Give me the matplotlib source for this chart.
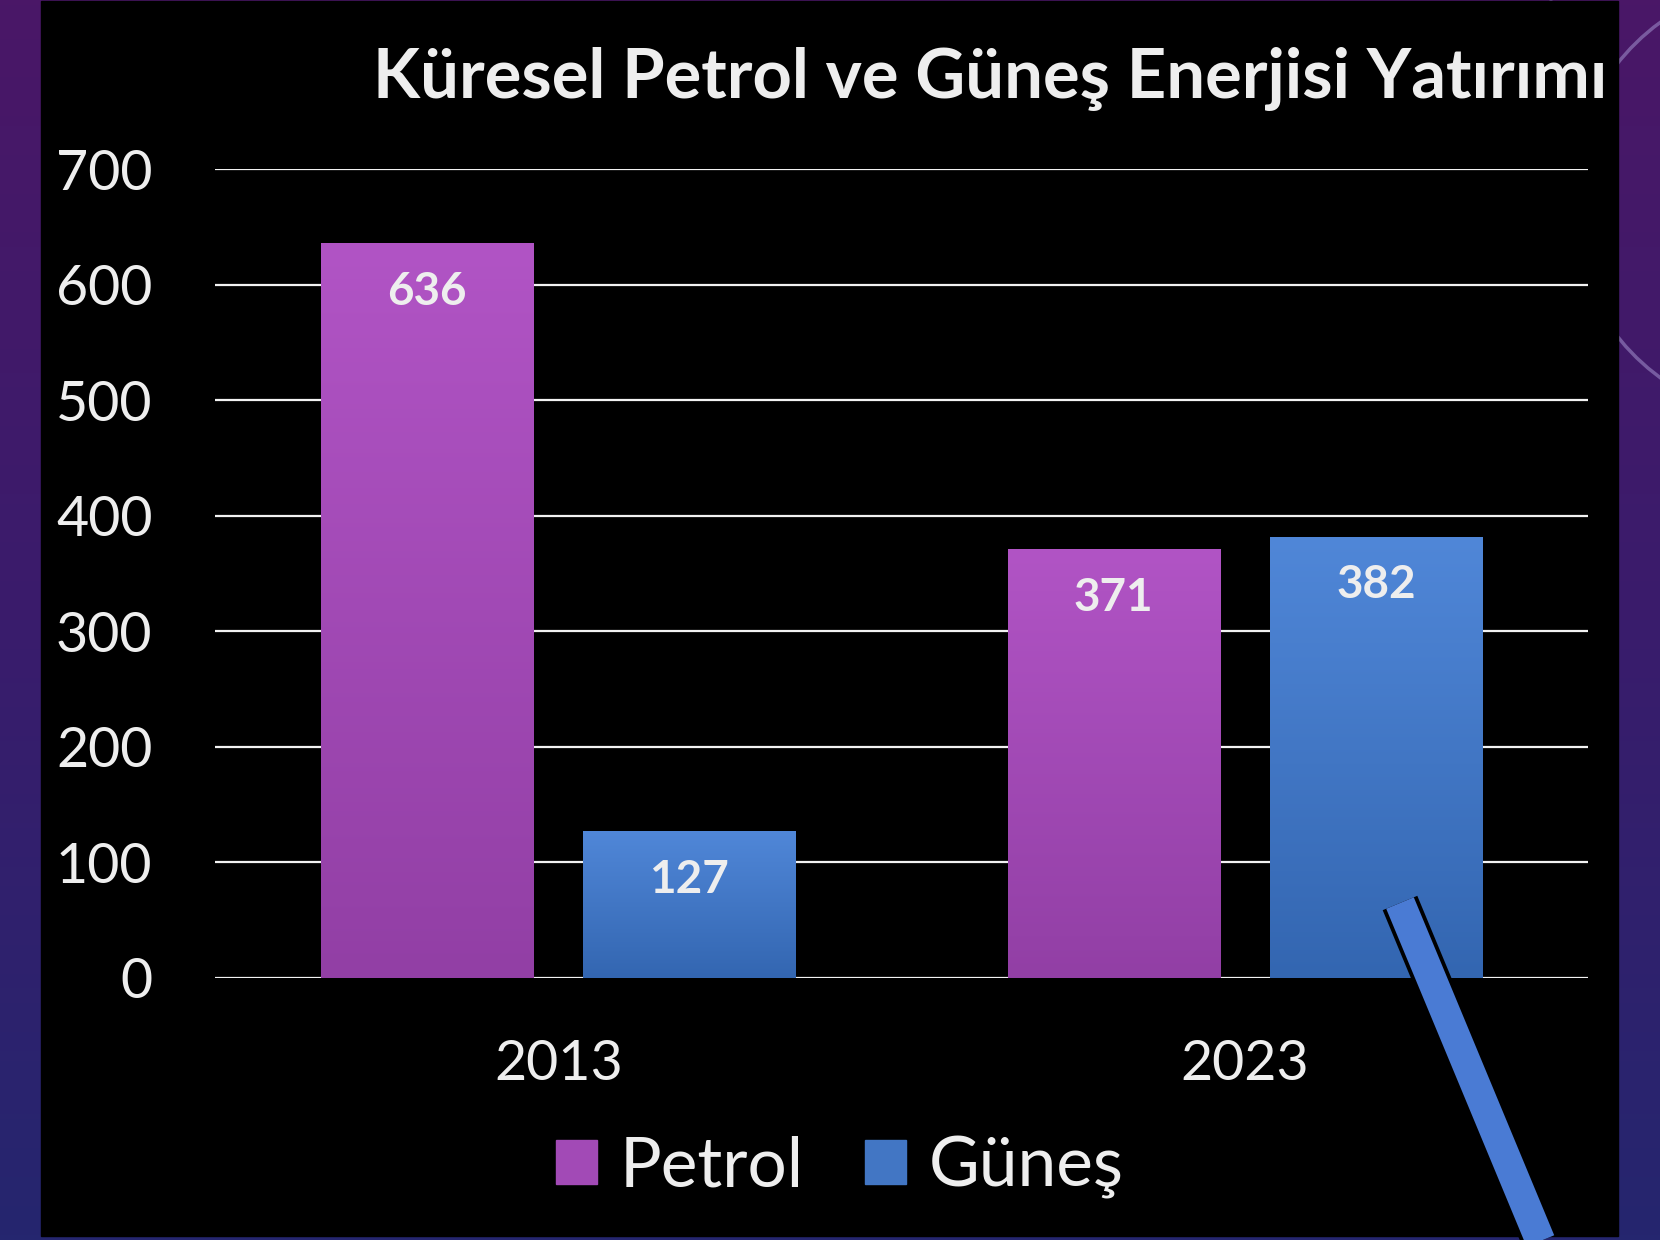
import numpy as np
import matplotlib
matplotlib.use("Agg")
import matplotlib.pyplot as plt
from matplotlib.colors import LinearSegmentedColormap
from matplotlib.patches import Rectangle, Arc, Patch
import matplotlib.patheffects as pe

plt.rcParams['font.family'] = ['Lato', 'DejaVu Sans']

# --- data ---
years = ["2013", "2023"]
series = ["Petrol", "Güneş"]
petrol = [636, 371]
gunes = [127, 382]
yticks = [0, 100, 200, 300, 400, 500, 600, 700]
title = "Küresel Petrol ve Güneş Enerjisi Yatırımı"

# gradient colours (top, bottom) per series
grad_cols = {"Petrol": ("#B154C5", "#923FA5"), "Güneş": ("#5087D8", "#3366B1")}
txt_col = "#EEEEEE"

W, H = 1660, 1240
fig = plt.figure(figsize=(W / 100, H / 100), dpi=100)

# --- slide background ---
bg = fig.add_axes([0, 0, 1, 1], zorder=0)
grad = np.linspace(0, 1, 256).reshape(-1, 1)
bg_cmap = LinearSegmentedColormap.from_list("bg", ["#4A1767", "#3A1C6C", "#25266F"])
bg.imshow(grad, cmap=bg_cmap, extent=[0, W, H, 0], aspect='auto')
bg.add_patch(Arc((1790, 200), 440, 440, theta1=120, theta2=250, color="#8E78B8", lw=2.5, alpha=0.7))
bg.add_patch(Arc((1850, 140), 660, 660, theta1=150, theta2=215, color="#7A66AA", lw=2, alpha=0.6))
bg.add_patch(Rectangle((41, 1), 1577, 1235, color="black"))
bg.set_xlim(0, W)
bg.set_ylim(H, 0)
bg.axis("off")

# --- chart ---
ax = fig.add_axes([215 / W, 1 - 978 / H, (1588 - 215) / W, (978 - 169) / H], zorder=1)
ax.set_facecolor("none")
x = np.arange(len(years))
bw = 0.309
off = 0.191

for vals, name, sgn in [(petrol, "Petrol", -1), (gunes, "Güneş", 1)]:
    bars = ax.bar(x + sgn * off, vals, bw, color="none", zorder=3)
    cmap = LinearSegmentedColormap.from_list(name, [grad_cols[name][1], grad_cols[name][0]])
    for b, v in zip(bars, vals):
        x0 = b.get_x()
        im = ax.imshow(grad, cmap=cmap, origin='lower', aspect='auto',
                       extent=[x0, x0 + b.get_width(), 0, v], zorder=3)
        im.set_clip_path(b)
        ax.annotate(str(v), (b.get_x() + b.get_width() / 2, v), xytext=(0, -35),
                    textcoords="offset points", ha="center", va="center",
                    fontsize=33, fontweight="bold", color=txt_col, zorder=4)

ax.set_xlim(-0.5, 1.5)
ax.set_ylim(0, 700)
ax.set_yticks(yticks)
ax.set_xticks(x)
ax.set_xticklabels(years)
ax.grid(axis="y", color="#F2F2F2", lw=1.6, zorder=1)
ax.set_axisbelow(True)
for s in ax.spines.values():
    s.set_visible(False)
ax.tick_params(axis="both", length=0, colors=txt_col, labelsize=40)
ax.tick_params(axis="y", pad=45)
ax.tick_params(axis="x", pad=44)

# --- legend ---
handles = [Patch(color="#A24AB6"), Patch(color="#4276C4")]
fig.legend(handles, series, loc="center", bbox_to_anchor=(840 / W, 1 - 1167 / H), ncol=2,
           frameon=False, fontsize=50, labelcolor=txt_col, handlelength=0.59,
           handleheight=0.59, handletextpad=0.33, columnspacing=0.88)

# --- title ---
fig.text(1607 / W, 1 - 98 / H, title, ha="right", va="baseline", fontsize=49.5,
         fontweight="bold", color=txt_col)

# --- slanted shape ---
ov = fig.add_axes([0, 0, 1, 1], zorder=5)
ov.set_facecolor("none")
ov.axis("off")
ov.set_xlim(0, W)
ov.set_ylim(H, 0)
d = np.array([140, 337]) / np.hypot(140, 337)
p0 = np.array([1400, 903])
p1 = p0 + d * 500
ov.plot([p0[0], p1[0]], [p0[1], p1[1]], color="#4A7BD4", lw=21.5, solid_capstyle="butt",
        path_effects=[pe.Stroke(linewidth=27, foreground="black", capstyle="butt"), pe.Normal()])

fig.savefig("out.png", dpi=100, facecolor="black")
